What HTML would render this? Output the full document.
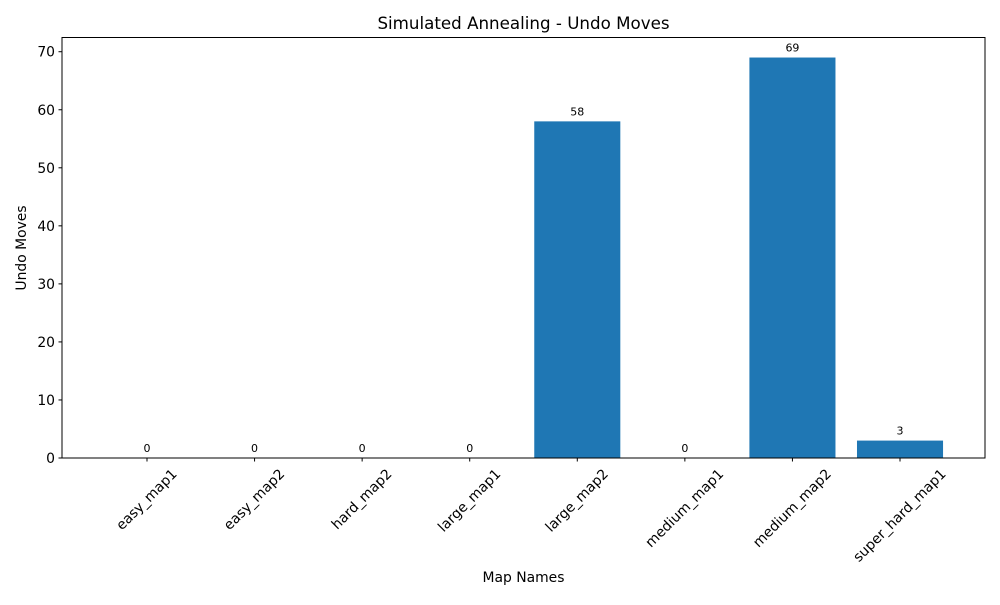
<!DOCTYPE html>
<html><head><meta charset="utf-8"><style>
body{margin:0;background:#fff}
svg text{font-family:"DejaVu Sans","Liberation Sans",sans-serif;fill:#000}
</style></head><body>
<svg id="chart" width="1000" height="600" xmlns="http://www.w3.org/2000/svg">
<rect width="1000" height="600" fill="#fff"/>
<text x="523.5" y="29" font-size="16.7" text-anchor="middle">Simulated Annealing - Undo Moves</text>
<g id="bars"></g>
<g id="yaxis"></g>
<g id="xaxis"></g>
<rect x="62" y="37.5" width="923" height="420.5" fill="none" stroke="#000" stroke-width="1"/>
<text x="523.5" y="582" font-size="13.9" text-anchor="middle">Map Names</text>
<text transform="translate(26,248) rotate(-90)" font-size="13.9" text-anchor="middle">Undo Moves</text>
</svg>
<script>
const categories=["easy_map1","easy_map2","hard_map2","large_map1","large_map2","medium_map1","medium_map2","super_hard_map1"];
const values=[0,0,0,0,58,0,69,3];
const yTicks=[0,10,20,30,40,50,60,70];
const L=62,R=985,T=37.5,B=458;
const yMax=Math.max(...values)*1.05;
const xMin=-0.4-0.05*(categories.length-0.2), xMax=categories.length-1+0.4+0.05*(categories.length-0.2);
const X=v=>L+(v-xMin)/(xMax-xMin)*(R-L);
const Y=v=>B-v/yMax*(B-T);
const NS="http://www.w3.org/2000/svg";
function mk(tag,attrs,parent,txt){const e=document.createElementNS(NS,tag);for(const k in attrs)e.setAttribute(k,attrs[k]);if(txt!==undefined)e.textContent=txt;parent.appendChild(e);return e;}
const gb=document.getElementById('bars'),gy=document.getElementById('yaxis'),gx=document.getElementById('xaxis');
values.forEach((v,i)=>{
  const x0=X(i-0.4),x1=X(i+0.4);
  const r=mk('rect',{x:x0,y:Y(v),width:x1-x0,height:B-Y(v),fill:'#1f77b4'},gb);
  
  
  const t=mk('text',{x:X(i),y:Y(v)-6,'font-size':'11','text-anchor':'middle'},gb,String(v));
  
  
});
yTicks.forEach(v=>{
  const y=Y(v);
  const l=mk('line',{x1:L-3.5,x2:L,y1:y,y2:y,stroke:'#000'},gy);
  
  
  const t=mk('text',{x:L-7,y:y+5,'font-size':'13.9','text-anchor':'end'},gy,String(v));
  
  
});
categories.forEach((c,i)=>{
  const x=X(i);
  const l=mk('line',{x1:x,x2:x,y1:B,y2:B+3.5,stroke:'#000'},gx);
  
  
  const t=mk('text',{'font-size':'13.9','text-anchor':'middle','dominant-baseline':'central'},gx,c);
  
  
  const w=t.getComputedTextLength();
  const h=(w+14)*0.7071;
  t.setAttribute('transform','translate('+x+','+(B+9+h/2)+') rotate(-45)');
});
</script>
</body></html>
